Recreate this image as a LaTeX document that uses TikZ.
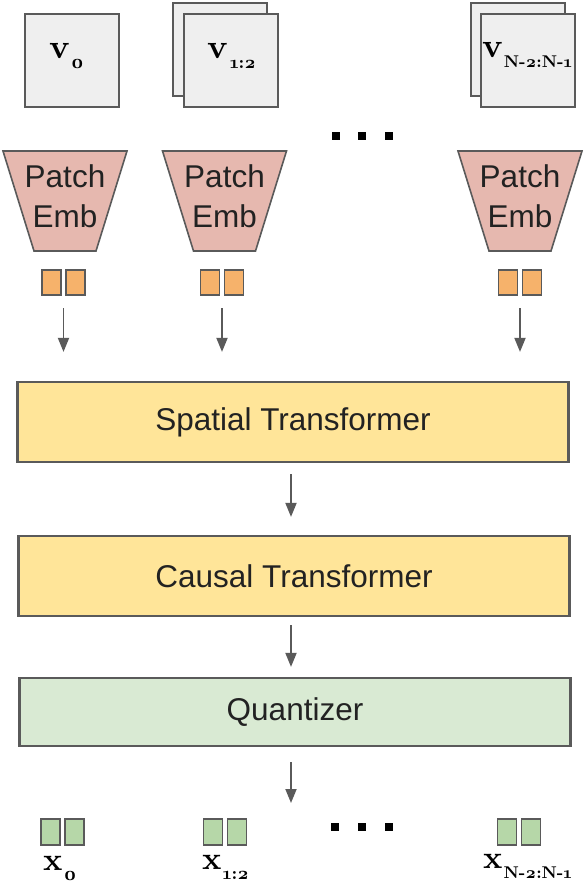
\documentclass[tikz,border=0pt]{standalone}
\usepackage{fontspec}
\usetikzlibrary{arrows.meta}
\newfontfamily\labfont{Liberation Sans}
\newfontfamily\osf{lmroman10-bold.otf}[Numbers=OldStyle]
\definecolor{edgec}{HTML}{5A5A5A}
\definecolor{imggray}{HTML}{EFEFEF}
\definecolor{pinkc}{HTML}{E6B8AF}
\definecolor{orangec}{HTML}{F6B26B}
\definecolor{yellowc}{HTML}{FFE599}
\definecolor{greenc}{HTML}{D9EAD3}
\definecolor{greensq}{HTML}{B6D7A8}
\definecolor{txt}{HTML}{222222}
\tikzset{
  imgbox/.style={draw=edgec, fill=imggray, line width=2pt, minimum width=94pt, minimum height=93pt, inner sep=0pt},
  pinkshape/.style={draw=edgec, fill=pinkc, line width=1.6pt, line join=miter},
  pelabel/.style={font=\labfont\fontsize{31.5}{40}\selectfont, text=txt, align=center, inner sep=0pt},
  osq/.style={draw=edgec, fill=orangec, line width=1.8pt, minimum width=19pt, minimum height=25pt, inner sep=0pt},
  gsq/.style={draw=edgec, fill=greensq, line width=1.8pt, minimum width=19pt, minimum height=26pt, inner sep=0pt},
  bigbox/.style={draw=edgec, line width=2.2pt, minimum width=551pt, inner sep=0pt, text=txt, font=\labfont\fontsize{31.5}{36}\selectfont},
  arr/.style={draw=edgec, line width=1.8pt, -{Triangle[length=14pt,width=11pt]}},
  dotsq/.style={fill=black, minimum size=7.5pt, inner sep=0pt},
  vlab/.style={anchor=base west, inner sep=0pt, text=black, font=\osf\fontsize{34}{34}\selectfont},
  xlab/.style={vlab, font=\osf\fontsize{32}{32}\selectfont},
}
\newcommand\sbs[3]{\kern#1pt\raisebox{-10pt}{\fontsize{#2}{#2}\selectfont #3}}
\begin{document}
\begin{tikzpicture}[x=1pt,y=-1pt]
\useasboundingbox (0,0) rectangle (584,884);
% input frames
\node[imgbox] (v0) at (72,60.5) {};
\node[imgbox] (v1back) at (220,49.5) {};
\node[imgbox] (v1) at (231,60.5) {};
\node[imgbox] (vNback) at (517.5,49.5) {};
\node[imgbox] (vN) at (528,60.5) {};
\node[vlab] (lv0) at (49,58) {v\sbs{1}{20}{0}};
\node[vlab] (lv1) at (207,58) {v\sbs{2}{18}{1:2}};
\node[vlab] (lvN) at (482,57) {v\sbs{1}{17}{N-2:N-1}};
% dots top
\node[dotsq] (dt1) at (336,136) {};
\node[dotsq] (dt2) at (362,136) {};
\node[dotsq] (dt3) at (389,136) {};
% patch embeddings
\foreach \c/\n in {65/0, 224.5/1, 520/2} {
  \draw[pinkshape] (\c-62,151) -- (\c+62,151) -- (\c+31,251) -- (\c-31,251) -- cycle;
  \node[pelabel] (pe\n) at (\c,196) {Patch\\Emb};
}
% orange tokens
\foreach \c/\n in {63.5/0, 222/1, 520/2} {
  \node[osq] (oa\n) at (\c-12,282.5) {};
  \node[osq] (ob\n) at (\c+12,282.5) {};
  \coordinate (op\n) at (\c,296);
}
% big boxes
\node[bigbox, fill=yellowc, minimum height=80pt] (sp) at (293,422) {Spatial Transformer};
\node[bigbox, fill=yellowc, minimum height=80pt] (ca) at (294,576) {Causal Transformer};
\node[bigbox, fill=greenc, minimum height=68pt] (qu) at (295,712) {Quantizer};
% arrows
\foreach \n in {0,1,2} {
  \draw[arr, shorten <=12pt, shorten >=29pt] (op\n) -- (op\n |- sp.north);
}
\coordinate (a1) at (291,463);
\draw[arr, shorten <=11pt, shorten >=18pt] (sp.south -| a1) -- (ca.north -| a1);
\draw[arr, shorten <=8pt, shorten >=10pt] (ca.south -| a1) -- (qu.north -| a1);
\coordinate (qend) at (291,803);
\draw[arr, shorten <=15pt] (qu.south -| a1) -- (qend);
% green tokens
\foreach \c/\n in {62.5/0, 225/1, 519/2} {
  \node[gsq] (ga\n) at (\c-12,832) {};
  \node[gsq] (gb\n) at (\c+12,832) {};
}
% dots bottom
\node[dotsq] (db1) at (335,827) {};
\node[dotsq] (db2) at (362,827) {};
\node[dotsq] (db3) at (389,827) {};
% output labels
\node[xlab] (lx0) at (43,870) {x\sbs{1}{20}{0}};
\node[xlab] (lx1) at (202,869) {x\sbs{1}{18}{1:2}};
\node[xlab] (lxN) at (483,868) {x\sbs{1}{17}{N-2:N-1}};
\end{tikzpicture}
\end{document}
